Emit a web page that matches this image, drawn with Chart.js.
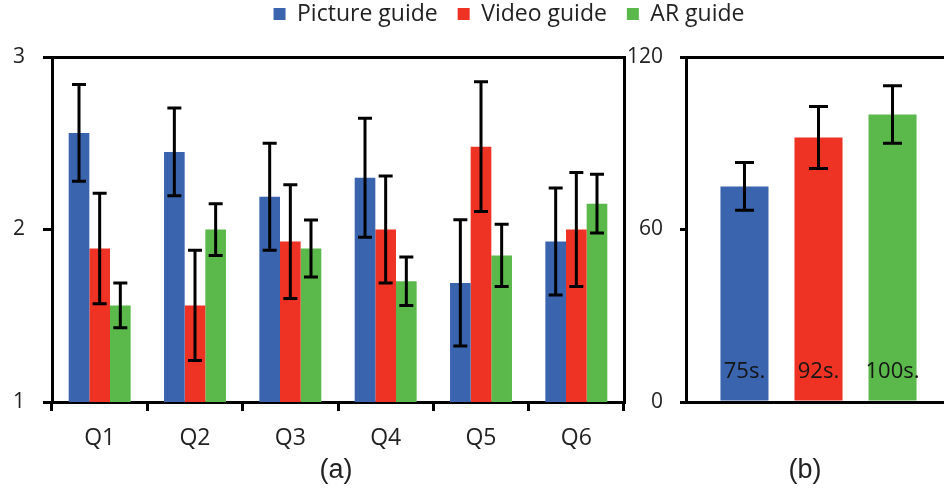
<!DOCTYPE html>
<html>
<head>
<meta charset="utf-8">
<script src="https://cdn.jsdelivr.net/npm/chart.js@4/dist/chart.umd.min.js"></script>
<style>
  html, body { margin: 0; padding: 0; background: #fff; overflow: hidden; }
  #wrap { position: relative; width: 944px; height: 490px; overflow: hidden; }
  canvas { position: absolute; top: 0; left: 0; }
  .caption { position: absolute; width: 100px; text-align: center; font: 27px "Liberation Sans", Arial, sans-serif; line-height: 30px; color: #222; }
</style>
</head>
<body>
<div id="wrap">
  <canvas id="scores" width="944" height="490"></canvas>
  <canvas id="times" width="951" height="490"></canvas>
  <div class="caption" style="left:286px; top:454px;">(a)</div>
  <div class="caption" style="left:755px; top:454px;">(b)</div>
</div>
<script>
// Questionnaire scores per question (panel a)
const questions = ['Q1', 'Q2', 'Q3', 'Q4', 'Q5', 'Q6'];
const pictureScores = [2.56, 2.45, 2.19, 2.30, 1.69, 1.93];
const pictureErrors = [0.28, 0.255, 0.31, 0.345, 0.366, 0.31];
const videoScores = [1.89, 1.56, 1.93, 2.00, 2.48, 2.00];
const videoErrors = [0.32, 0.32, 0.33, 0.31, 0.376, 0.33];
const arScores = [1.56, 2.00, 1.89, 1.70, 1.85, 2.15];
const arErrors = [0.13, 0.15, 0.165, 0.14, 0.18, 0.17];
const scoreTicks = [1, 2, 3];

// Completion time in seconds (panel b)
const guideNames = ['Picture guide', 'Video guide', 'AR guide'];
const timeValues = [75, 92, 100];
const timeErrors = [8.3, 10.8, 10];
const timeTicks = [0, 60, 120];

const guideColors = ['#3A64AE', '#EE3325', '#5BB94B'];
const textColor = '#222';

Chart.defaults.font.family = '"Open Sans", sans-serif';
Chart.defaults.color = textColor;

// Vertical error whiskers with caps, drawn on top of each bar
const errorBars = {
  id: 'errorBars',
  afterDatasetsDraw(chart, args, opts) {
    const { ctx } = chart;
    const yScale = chart.scales.y;
    ctx.save();
    ctx.strokeStyle = '#000';
    ctx.lineWidth = opts.width;
    chart.data.datasets.forEach((ds, i) => {
      const meta = chart.getDatasetMeta(i);
      meta.data.forEach((bar, j) => {
        const v = ds.data[j];
        const e = ds.errors[j];
        const top = yScale.getPixelForValue(v + e);
        const bottom = yScale.getPixelForValue(v - e);
        const half = opts.cap / 2;
        ctx.beginPath();
        ctx.moveTo(bar.x, top); ctx.lineTo(bar.x, bottom);
        ctx.moveTo(bar.x - half, top); ctx.lineTo(bar.x + half, top);
        ctx.moveTo(bar.x - half, bottom); ctx.lineTo(bar.x + half, bottom);
        ctx.stroke();
      });
    });
    ctx.restore();
  }
};

// Value text written near the base of each bar, e.g. "75s."
const baseLabels = {
  id: 'baseLabels',
  afterDatasetsDraw(chart, args, opts) {
    if (!opts.enabled) return;
    const { ctx } = chart;
    const yScale = chart.scales.y;
    const base = yScale.getPixelForValue(0);
    ctx.save();
    ctx.font = opts.font;
    ctx.fillStyle = opts.color;
    ctx.textAlign = 'center';
    ctx.textBaseline = 'alphabetic';
    chart.data.datasets.forEach((ds, i) => {
      const meta = chart.getDatasetMeta(i);
      meta.data.forEach((bar, j) => {
        ctx.fillText(ds.data[j] + opts.suffix, bar.x, base - opts.offset);
      });
    });
    ctx.restore();
  }
};

const blackGrid = (tickLength) => ({
  display: true,
  drawOnChartArea: false,
  drawTicks: true,
  tickLength: tickLength,
  color: '#000',
  lineWidth: 3
});
const blackBorder = { display: true, color: '#000', width: 3 };
const frameOnly = (size, horizontal) => ({
  display: true,
  grid: { display: false },
  ticks: { display: false },
  border: blackBorder,
  afterFit: (s) => { if (horizontal) { s.height = size; } else { s.width = size; } }
});

// Panel (a): grouped bars per question
new Chart(document.getElementById('scores'), {
  type: 'bar',
  data: {
    labels: questions,
    datasets: [
      { label: guideNames[0], data: pictureScores, errors: pictureErrors, backgroundColor: guideColors[0] },
      { label: guideNames[1], data: videoScores, errors: videoErrors, backgroundColor: guideColors[1] },
      { label: guideNames[2], data: arScores, errors: arErrors, backgroundColor: guideColors[2] }
    ]
  },
  options: {
    responsive: false,
    animation: false,
    devicePixelRatio: 1,
    layout: { padding: { left: 0, top: 0, right: 320, bottom: 0 } },
    datasets: { bar: { categoryPercentage: 0.65, barPercentage: 1.0, borderWidth: 0 } },
    plugins: {
      legend: { display: false },
      tooltip: { enabled: false },
      errorBars: { width: 3, cap: 14 },
      baseLabels: { enabled: false }
    },
    scales: {
      x: {
        position: 'bottom',
        grid: Object.assign(blackGrid(9), { offset: true }),
        border: blackBorder,
        ticks: { font: { size: 23 }, color: textColor, padding: 14 },
        afterFit: (s) => { s.height = 88; }
      },
      xTop: Object.assign({ type: 'category', position: 'top' }, frameOnly(57, true)),
      y: {
        position: 'left',
        min: scoreTicks[0],
        max: scoreTicks[scoreTicks.length - 1],
        afterBuildTicks: (s) => { s.ticks = scoreTicks.map(v => ({ value: v })); },
        grid: blackGrid(9),
        border: blackBorder,
        ticks: { font: { size: 21 }, color: textColor, padding: 18 },
        afterFit: (s) => { s.width = 52; }
      },
      yRight: Object.assign({ type: 'linear', position: 'right' }, frameOnly(0, false))
    }
  },
  plugins: [errorBars, baseLabels]
});

// Panel (b): completion time per guide, shared legend on top
new Chart(document.getElementById('times'), {
  type: 'bar',
  data: {
    labels: [''],
    datasets: guideNames.map((name, i) => ({
      label: name,
      data: [timeValues[i]],
      errors: [timeErrors[i]],
      backgroundColor: guideColors[i]
    }))
  },
  options: {
    responsive: false,
    animation: false,
    devicePixelRatio: 1,
    layout: { padding: { left: 67, top: -17.5, right: 0, bottom: 0 } },
    datasets: { bar: { categoryPercentage: 0.838, barPercentage: 0.649, borderWidth: 0 } },
    plugins: {
      legend: {
        display: true,
        position: 'top',
        labels: {
          font: { size: 23 },
          color: textColor,
          boxWidth: 12,
          boxHeight: 12,
          padding: 20
        }
      },
      tooltip: { enabled: false },
      errorBars: { width: 3, cap: 19 },
      baseLabels: { enabled: true, suffix: 's.', offset: 24, font: '22px "Open Sans", sans-serif', color: '#151515' }
    },
    scales: {
      x: {
        position: 'bottom',
        grid: { display: false },
        border: blackBorder,
        ticks: { display: false },
        afterFit: (s) => { s.height = 88; }
      },
      xTop: Object.assign({ type: 'category', position: 'top' }, frameOnly(21.5, true)),
      y: {
        position: 'left',
        min: timeTicks[0],
        max: timeTicks[timeTicks.length - 1],
        afterBuildTicks: (s) => { s.ticks = timeTicks.map(v => ({ value: v })); },
        grid: blackGrid(6),
        border: blackBorder,
        ticks: { font: { size: 21 }, color: textColor, padding: 17 },
        afterFit: (s) => { s.width = 619; }
      }
    }
  },
  plugins: [errorBars, baseLabels]
});
</script>
</body>
</html>
